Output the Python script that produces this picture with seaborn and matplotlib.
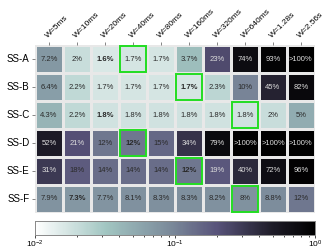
import numpy as np
import matplotlib
matplotlib.use("Agg")
import matplotlib.pyplot as plt
import seaborn as sns
from matplotlib.colors import LogNorm, LinearSegmentedColormap
from matplotlib.patches import Rectangle

windows = ["W=5ms", "W=10ms", "W=20ms", "W=40ms", "W=80ms",
           "W=160ms", "W=320ms", "W=640ms", "W=1.28s", "W=2.56s"]
sets = ["SS-A", "SS-B", "SS-C", "SS-D", "SS-E", "SS-F"]

# error in percent; 110 stands for ">100%"
ss_a = [7.2, 2, 1.6, 1.7, 1.7, 3.7, 23, 74, 93, 110]
ss_b = [6.4, 2.2, 1.7, 1.7, 1.7, 1.7, 2.3, 10, 45, 82]
ss_c = [4.3, 2.2, 1.8, 1.8, 1.8, 1.8, 1.8, 1.8, 2, 5]
ss_d = [52, 21, 12, 12, 15, 34, 79, 110, 110, 110]
ss_e = [31, 18, 14, 14, 14, 12, 19, 40, 72, 96]
ss_f = [7.9, 7.3, 7.7, 8.1, 8.3, 8.3, 8.2, 8, 8.8, 12]

# (row, col) of bold minimum labels and of green boxes
bold_cells = [(0, 2), (1, 5), (2, 2), (3, 3), (4, 5), (5, 1)]
boxed_cells = [(0, 3), (1, 5), (2, 7), (3, 3), (4, 5), (5, 7)]

plt.rcParams["font.family"] = ["Liberation Sans", "DejaVu Sans"]

vals = np.array([ss_a, ss_b, ss_c, ss_d, ss_e, ss_f], dtype=float)
labels = np.array([[">100%" if v > 100 else f"{v:g}%" for v in row] for row in vals])

cmap = LinearSegmentedColormap.from_list("err", [
    (0.0, "#ffffff"), (0.25, "#a2c6c2"), (0.5, "#788597"),
    (0.65, "#58537a"), (0.85, "#1e1c28"), (1.0, "#000000")])

fig = plt.figure(figsize=(3.24, 2.52), dpi=100)
ax = fig.add_axes([0.108, 0.155, 0.864, 0.666])
cax = fig.add_axes([0.108, 0.068, 0.864, 0.056])

sns.heatmap(vals / 100, ax=ax, cbar_ax=cax, cmap=cmap,
            norm=LogNorm(vmin=0.01, vmax=1),
            annot=labels, fmt="", annot_kws={"fontsize": 5.5},
            linewidths=0.8, linecolor="#e8e8e8",
            cbar_kws={"orientation": "horizontal"},
            xticklabels=windows, yticklabels=sets)

for t in ax.texts:
    x, y = t.get_position()
    r, c = int(y), int(x)
    t.set_color("#2a2a2a" if vals[r, c] <= 18 else "#dddddd")
    if (r, c) in bold_cells:
        t.set_fontweight("bold")

for r, c in boxed_cells:
    ax.add_patch(Rectangle((c + 0.04, r + 0.04), 0.92, 0.92, fill=False,
                           edgecolor="#22dd22", lw=1.4, zorder=5))

ax.xaxis.tick_top()
ax.set_xticklabels(windows, rotation=45, ha="left", va="bottom",
                   rotation_mode="anchor", fontsize=6)
ax.set_yticklabels(sets, rotation=0, fontsize=7)
ax.tick_params(axis="both", length=2, width=0.5, color="#555555", pad=2)

cax.tick_params(labelsize=6, length=2, width=0.5, pad=1)
cax.tick_params(which="minor", length=1.5, width=0.5)
for s in cax.spines.values():
    s.set_visible(True)
    s.set_edgecolor("#888888")
    s.set_linewidth(0.6)

fig.savefig("out.png", dpi=100)
